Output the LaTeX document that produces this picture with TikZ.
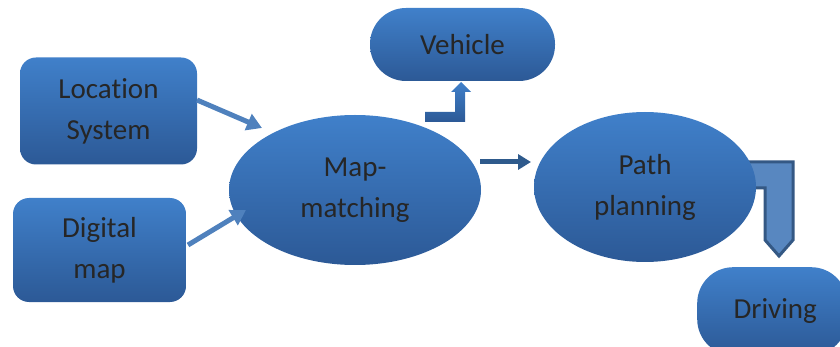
\documentclass[tikz,border=0pt]{standalone}
\usepackage{fontspec}
\setmainfont{Carlito}[Ligatures=NoCommon]
\usetikzlibrary{shapes.geometric,arrows.meta}
\definecolor{boxtop}{RGB}{64,128,202}
\definecolor{boxbot}{RGB}{44,89,150}
\definecolor{arrlight}{RGB}{79,129,189}
\definecolor{arrdark}{RGB}{46,90,140}
\definecolor{arredge}{RGB}{52,88,132}
\definecolor{txt}{RGB}{38,38,38}
\begin{document}
\begin{tikzpicture}[x=1pt,y=-1pt,
  shapebase/.style={top color=boxtop,bottom color=boxbot,draw=none,
    text=txt,align=center,inner sep=0pt,
    font=\fontsize{29}{41}\selectfont},
  rbox/.style={shapebase,rectangle,rounded corners=16pt},
  pill/.style={shapebase,rectangle,rounded corners=36pt},
  oval/.style={shapebase,ellipse},
  thinarrow/.style={draw=arrlight,line width=5pt,
    -{Triangle[length=15pt,width=17pt]}},
  darkarrow/.style={draw=arrdark,line width=5pt,
    -{Triangle[length=13pt,width=15pt]}}]
\clip (0,0) rectangle (840,347);
% right bent arrow (behind ellipse)
\fill[arrlight!95!white,draw=arredge,line width=3pt,line join=miter]
  (700,162) -- (793,162) -- (793,240) -- (779,256) -- (765,240)
  -- (765,188) -- (700,188) -- cycle;
\node[rbox,minimum width=177pt,minimum height=107pt] (loc) at (108.5,111) {Location\\System};
\node[rbox,minimum width=173pt,minimum height=104pt] (dig) at (99.5,250) {Digital\\map};
\node[oval,minimum width=252pt,minimum height=150pt] (mm) at (355,190) {Map-\\matching};
\node[oval,minimum width=222pt,minimum height=150pt] (pp) at (645,187) {Path\\planning};
\node[pill,minimum width=185pt,minimum height=73pt] (veh) at (462.5,44.5) {Vehicle};
\node[pill,minimum width=150pt,minimum height=88pt,anchor=north west] (drv) at (697,267) {\hspace*{6pt}Driving};
% vehicle bent arrow
\shade[top color=boxtop,bottom color=boxbot]
  (425,112) -- (455,112) -- (455,92) -- (451,92) -- (461,82) -- (471,92)
  -- (465,92) -- (465,122) -- (425,122) -- cycle;
% straight arrows
\coordinate (a1) at (197,100);
\coordinate (a2) at (262,128);
\coordinate (b1) at (188,245);
\coordinate (b2) at (246,210);
\coordinate (c1) at (480,162);
\coordinate (c2) at (531,162);
\draw[thinarrow] (a1) -- (a2);
\draw[thinarrow] (b1) -- (b2);
\draw[darkarrow] (c1) -- (c2);
\end{tikzpicture}
\end{document}
